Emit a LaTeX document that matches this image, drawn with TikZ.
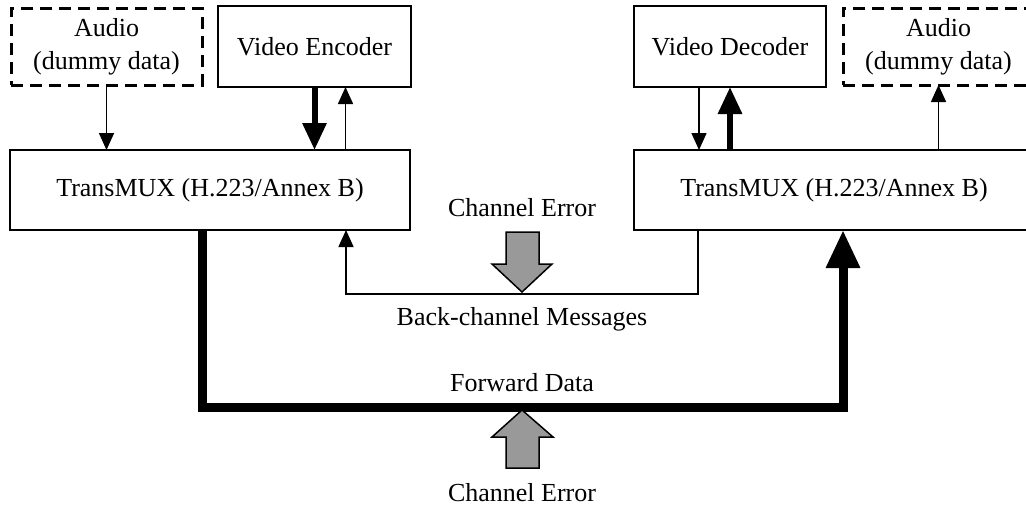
\documentclass[tikz,border=0pt]{standalone}
\usepackage{fontspec}
\setmainfont{Liberation Serif}
\usepackage{xcolor}
\usepackage{tikz}
\usetikzlibrary{arrows.meta, positioning}

\definecolor{errgray}{gray}{0.6}

\begin{document}
\begin{tikzpicture}[
    x=0.5pt, y=-0.5pt,
    every node/.style={font=\fontsize{13}{16.5}\selectfont},
    block/.style={
        draw, line width=0.75pt,
        inner sep=0pt, outer sep=0pt, align=center
    },
    dummy/.style={
        block, line width=1.5pt, dash pattern=on 6pt off 3.5pt,
        minimum width=95.5pt, minimum height=38.5pt
    },
    codec/.style={block, minimum width=96.5pt, minimum height=40.5pt},
    mux/.style={block, minimum width=200pt, minimum height=40pt},
    sig/.style={-{Triangle[length=8.5pt, width=7.5pt]}, line width=0.75pt},
    vid/.style={-{Triangle[length=13.5pt, width=11.5pt]}, line width=3pt},
    fwd/.style={-{Triangle[length=19pt, width=16pt]}, line width=4.5pt},
    errarrow/.style={draw, line width=0.75pt, fill=errgray},
]
\useasboundingbox (0,0) rectangle (1026,509);

% ── multiplexers ──
\node[mux] (muxL) at (210,190) {TransMUX (H.223/Annex B)};
\node[mux, right=112pt of muxL] (muxR) {TransMUX (H.223/Annex B)};

% ── sender side ──
\node[codec] (enc) at (314.5,46.5) {Video Encoder};
\node[dummy, left=8pt of enc] (audL) {Audio\\(dummy data)};

% ── receiver side ──
\node[codec, minimum width=96pt] (dec) at (730,46.5) {Video Decoder};
\node[dummy, right=8.5pt of dec] (audR) {Audio\\(dummy data)};

% ── labels ──
\node (errT) at (522,208) {Channel Error};
\node (bcm) at (522,319) {Back-channel Messages};
\node (fdata) at (522,383) {Forward Data};
\node (errB) at (522,493) {Channel Error};

\coordinate (bc) at (522,294);
\coordinate (fw) at (522,407);

% ── connections ──
\draw[sig] (audL.south) -- (audL.south |- muxL.north);
\draw[vid] (enc.south) -- (enc.south |- muxL.north);
\draw[sig] ([xshift=15.5pt]enc.south |- muxL.north) -- ([xshift=15.5pt]enc.south);
\draw[sig] ([xshift=-15.5pt]dec.south) -- ([xshift=-15.5pt]dec.south |- muxR.north);
\draw[vid] (dec.south |- muxR.north) -- (dec.south);
\draw[sig] (audR.south |- muxR.north) -- (audR.south);

\draw[sig] ([xshift=-68pt]muxR.south) |- (bc) -| ([xshift=68pt]muxL.south);
\draw[fwd] ([xshift=-4pt]muxL.south) |- (fw) -| ([xshift=4.5pt]muxR.south);

% ── channel errors ──
\draw[errarrow] (506,232) -- (539,232) -- (539,264) -- (552,264)
    -- (522,292) -- (492,264) -- (506,264) -- cycle;
\draw[errarrow] (506,468) -- (539,468) -- (539,437) -- (553,437)
    -- (522,410) -- (492,437) -- (506,437) -- cycle;

\end{tikzpicture}
\end{document}
